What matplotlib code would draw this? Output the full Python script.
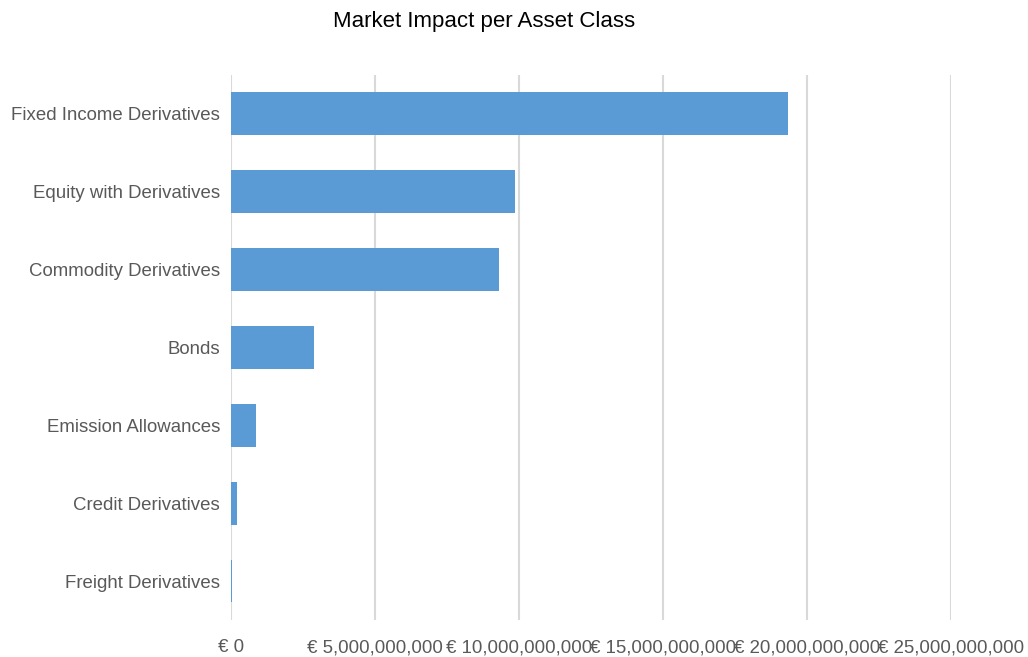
import matplotlib.pyplot as plt
from matplotlib.ticker import FuncFormatter

categories = ['Fixed Income Derivatives', 'Equity with Derivatives', 'Commodity Derivatives',
              'Bonds', 'Emission Allowances', 'Credit Derivatives', 'Freight Derivatives']
impact = [19.36e9, 9.88e9, 9.29e9, 2.87e9, 0.88e9, 0.21e9, 0.03e9]
ticks = [0, 5e9, 10e9, 15e9, 20e9, 25e9]

plt.rcParams['font.family'] = ['Liberation Sans', 'DejaVu Sans']

fig = plt.figure(figsize=(10.28, 6.57), dpi=100)
ax = fig.add_axes([0.2247, 0.0563, 0.7003, 0.8297])

ypos = list(range(len(categories)))
ax.barh(ypos, impact, height=0.55, color='#5b9bd5', zorder=3)
ax.set_yticks(ypos)
ax.set_yticklabels(categories)
ax.set_ylim(len(categories) - 0.5, -0.5)

ax.set_xlim(0, 25e9)
ax.set_xticks(ticks)
ax.xaxis.set_major_formatter(FuncFormatter(lambda v, p: '€ {:,.0f}'.format(v)))
ax.grid(axis='x', color='#d9d9d9', lw=1.5, zorder=0)

for s in ax.spines.values():
    s.set_visible(False)
ax.tick_params(axis='both', length=0, labelsize=13.4, colors='#595959')
ax.tick_params(axis='x', pad=14)
ax.tick_params(axis='y', pad=8)

fig.text(0.4713, 0.967, 'Market Impact per Asset Class', ha='center', va='center',
         fontsize=16, color='black')

fig.savefig('out.png', dpi=100)
